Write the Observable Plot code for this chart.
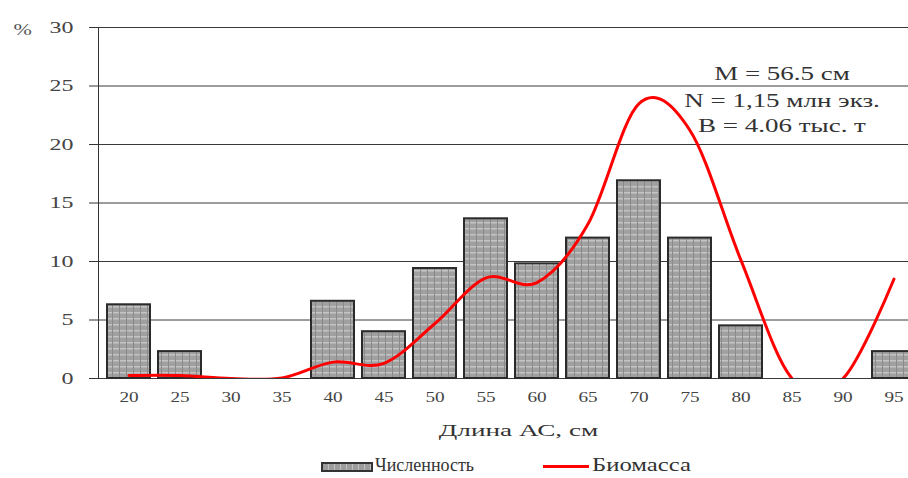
<!DOCTYPE html>
<html>
<head>
<meta charset="utf-8">
<script src="https://cdn.jsdelivr.net/npm/d3@7"></script>
<script src="https://cdn.jsdelivr.net/npm/@observablehq/plot@0.6"></script>
<style>
  html, body { margin: 0; padding: 0; background: #fff; overflow: hidden; }
  body { width: 908px; height: 478px; font-family: "Liberation Serif", "DejaVu Serif", serif; }
  #chart svg { display: block; overflow: hidden; }
  .legend { position: relative; width: 908px; height: 30px; color: #333; font-size: 19px; font-family: "Liberation Serif", "DejaVu Serif", serif; }
  .legend .sw { position: absolute; left: 321px; top: 14px; width: 48px; height: 6px; border: 2px solid #333;
    background: repeating-linear-gradient(90deg, #9c9c9c 0 5px, #c0c0c0 5px 6px); }
  .legend .ln { position: absolute; left: 543px; top: 17px; width: 46px; height: 3px; background: #ff0000; }
  .legend .t { position: absolute; top: 7px; line-height: 20px; white-space: nowrap; transform-origin: 0 50%; }
</style>
</head>
<body>
<div id="chart"></div>
<div class="legend">
  <div class="sw"></div><div class="t" id="lg1" style="left:375px; font-size:18px"></div>
  <div class="ln"></div><div class="t" id="lg2" style="left:592px; transform: scaleX(1.3)"></div>
</div>
<script>
// ---- data ----
const lengths = ["20", "25", "30", "35", "40", "45", "50", "55", "60", "65", "70", "75", "80", "85", "90", "95"];
const abundance = [6.3, 2.3, 0, 0, 6.6, 4.0, 9.4, 13.65, 9.8, 12.0, 16.9, 12.0, 4.5, 0, 0, 2.3];
const biomass = [0.25, 0.25, 0.0, 0.05, 1.4, 1.3, 4.7, 8.6, 8.2, 13.2, 23.5, 21.2, 10.1, 0, 0, 8.5];
const yTicks = [0, 5, 10, 15, 20, 25, 30];
const yTickLabels = ["0", "5", "10", "15", "20", "25", "30"];
const statsLines = ["M = 56.5 см", "N = 1,15 млн экз.", "B = 4.06 тыс. т"];
const statsY = [26.0, 23.7, 21.55];
const statsAnchor = "80";
const xTitle = "Длина АС, см";
const yTitle = "%";
const seriesNames = ["Численность", "Биомасса"];

const serif = "'Liberation Serif', 'DejaVu Serif', serif";
const rows = lengths.map((l, i) => ({len: l, abundance: abundance[i], biomass: biomass[i]}));
const stats = statsLines.map((t, i) => ({text: t, y: statsY[i], x: statsAnchor}));
const yFormat = (v) => yTickLabels[yTicks.indexOf(v)];

const hasAxisMarks = typeof Plot.axisY === "function";
const axisMarks = hasAxisMarks ? [
  Plot.axisY(yTicks, {tickSize: 9, tickPadding: 16, tickFormat: yFormat, fontSize: 16.5, fill: "#444", stroke: "#333", label: null}),
  Plot.axisX({tickSize: 0, tickPadding: 13, fontSize: 15, fill: "#444", label: null})
] : [];

const plot = Plot.plot({
  width: 908,
  height: 448,
  marginLeft: 98,
  marginRight: 0,
  marginTop: 27,
  marginBottom: 70,
  style: {fontFamily: serif, background: "white", color: "#333", fontSize: "16px"},
  x: {domain: lengths, range: [97.5, 924.2], paddingInner: 0.148, paddingOuter: 0.074, label: null, tickSize: 0, tickPadding: 13},
  y: {domain: [0, 30], ticks: yTicks, label: null, tickSize: 9, tickPadding: 16, tickFormat: yFormat},
  marks: [
    Plot.ruleY(yTicks, {stroke: "#3a3a3a", strokeWidth: 1}),
    Plot.barY(rows, {x: "len", y: "abundance", fill: "url(#barPattern)", stroke: "#2b2b2b", strokeWidth: 2}),
    Plot.line(rows, {x: "len", y: "biomass", curve: "cardinal", tension: 0, stroke: "#ff0000", strokeWidth: 3, clip: true}),
    Plot.text(stats, {x: "x", y: "y", text: "text", dx: 41, fontSize: 19, fill: "#333"}),
    Plot.text([xTitle], {frameAnchor: "bottom", dx: 15, dy: 57, fontSize: 17, fill: "#333"}),
    Plot.text([yTitle], {frameAnchor: "top-left", dx: -85, dy: -5, fontSize: 17, fill: "#555"}),
    Plot.frame({anchor: "left", stroke: "#333"}),
    ...axisMarks
  ]
});

// bar texture pattern
const svg = d3.select(plot);
const defs = svg.insert("defs", ":first-child");
const pat = defs.append("pattern").attr("id", "barPattern").attr("patternUnits", "userSpaceOnUse").attr("width", 7).attr("height", 6);
pat.append("rect").attr("width", 7).attr("height", 6).attr("fill", "#a0a0a0");
pat.append("rect").attr("width", 7).attr("height", 1.5).attr("fill", "#c4c4c4");
pat.append("rect").attr("width", 1).attr("height", 6).attr("fill", "#8a8a8a");

document.getElementById("chart").appendChild(plot);
document.getElementById("lg1").textContent = seriesNames[0];
document.getElementById("lg2").textContent = seriesNames[1];

// text styling: the reference's lettering is horizontally stretched
svg.selectAll("text").style("font-family", serif);
const inXAxis = (n) => !!n.closest('[aria-label^="x-axis"]');
const inYAxis = (n) => !!n.closest('[aria-label^="y-axis"]');
function stretch(sel, k) {
  sel.each(function() {
    this.removeAttribute("textLength");
    let w = 0;
    try { w = this.getComputedTextLength(); } catch (e) { w = 0; }
    if (!(w > 0)) w = this.getBBox().width;
    if (w > 0) {
      this.setAttribute("textLength", (w * k).toFixed(1));
      this.setAttribute("lengthAdjust", "spacingAndGlyphs");
    }
  });
}
const xTickText = svg.selectAll("text").filter(function() { return inXAxis(this); })
  .style("font-size", "15px").style("fill", "#444");
stretch(xTickText, 1.28);
const yLabText = svg.selectAll("text").filter(function() {
  return inYAxis(this) || (!inXAxis(this) && yTickLabels.includes((this.textContent || "").trim()));
}).style("font-size", "16.5px").style("fill", "#444");
stretch(yLabText, 1.45);
stretch(svg.selectAll("text").filter(function() { return this.textContent === xTitle; }), 1.6);
stretch(svg.selectAll("text").filter(function() { return statsLines.includes(this.textContent); }), 1.42);
stretch(svg.selectAll("text").filter(function() { return this.textContent === yTitle; }), 1.3);
</script>
</body>
</html>
